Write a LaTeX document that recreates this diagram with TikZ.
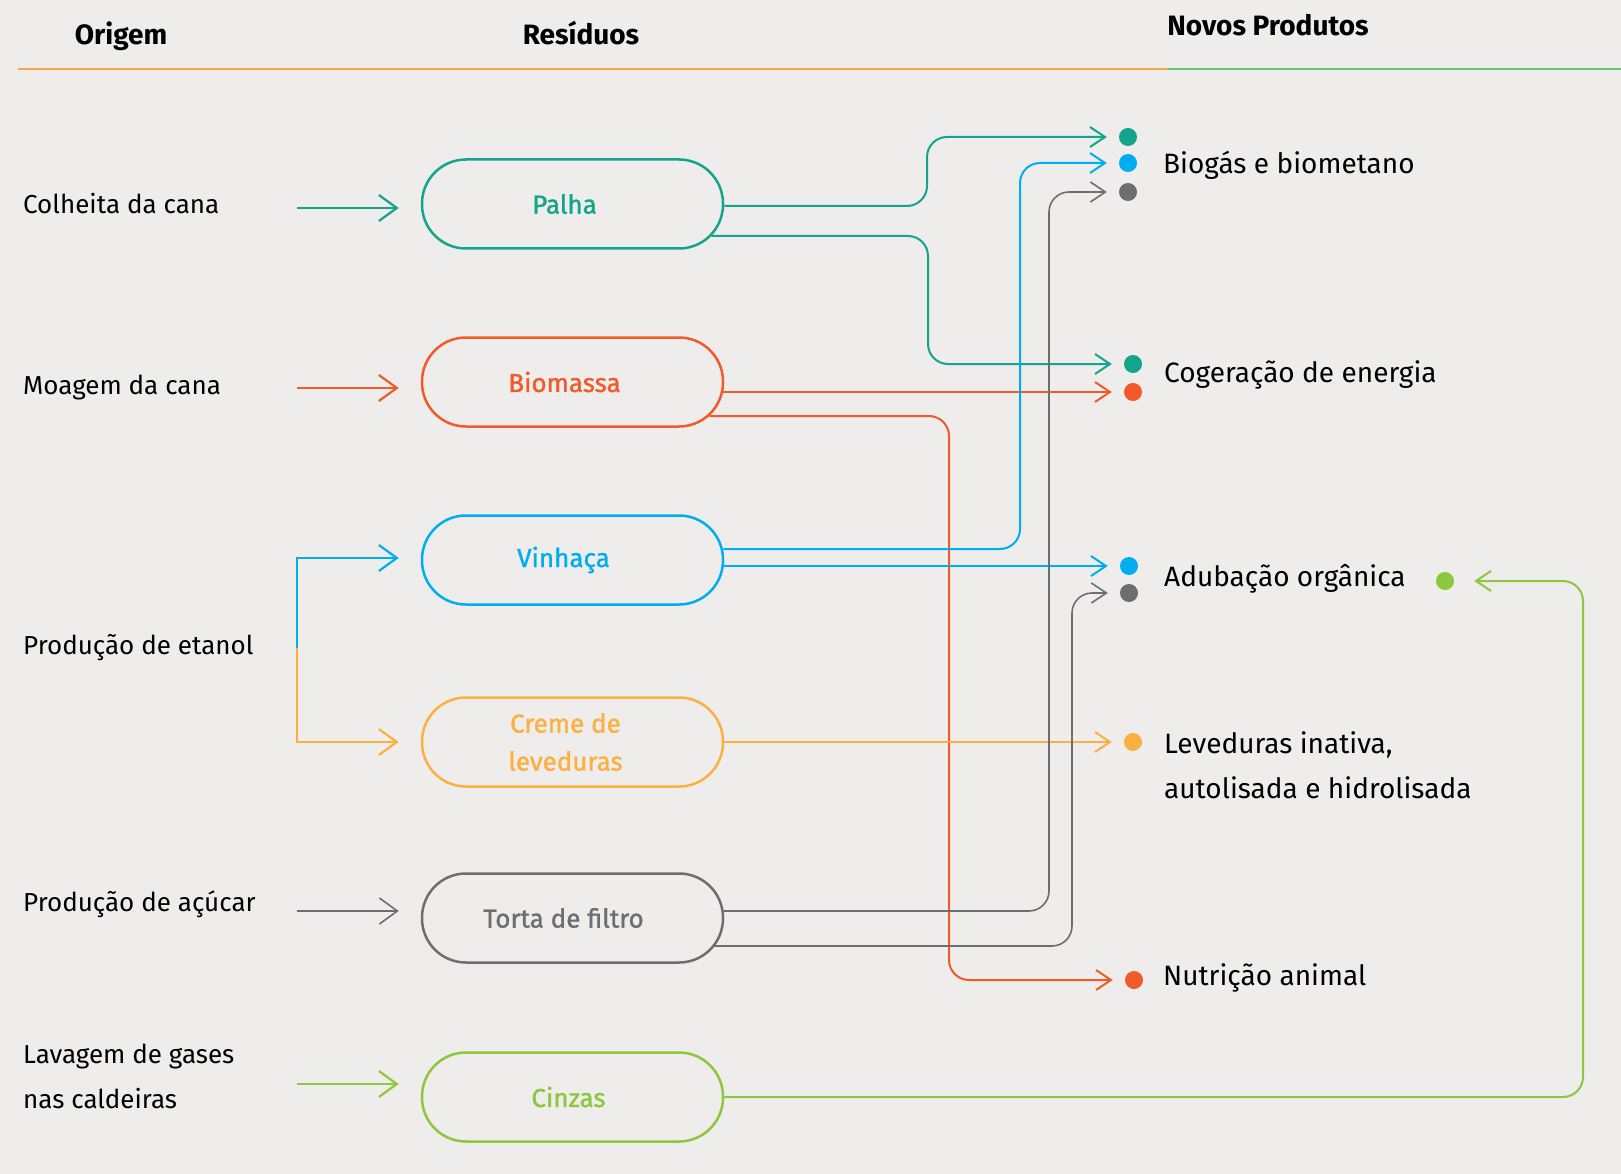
\documentclass[tikz,border=0pt]{standalone}
\usepackage{fontspec}
\setmainfont{Fira Sans}
\newfontfamily\pillfont{Fira Sans}[FakeBold=1.2]
\usetikzlibrary{arrows.meta}
\definecolor{paper}{HTML}{EEEDEB}
\definecolor{cteal}{HTML}{13A48C}
\definecolor{cred}{HTML}{F15A29}
\definecolor{cblue}{HTML}{00AEEF}
\definecolor{corange}{HTML}{FBB040}
\definecolor{cgrey}{HTML}{6D6E71}
\definecolor{cgreen}{HTML}{8DC63F}
\definecolor{hdorange}{HTML}{F4A849}
\definecolor{hdgreen}{HTML}{6CBF74}
\begin{document}
\begin{tikzpicture}[x=1pt,y=-1pt,
  pill/.style={draw, line width=2.5pt, rounded corners=44pt,
    minimum width=301pt, minimum height=89pt, inner sep=0pt},
  pilltext/.style={inner sep=0pt, align=center,
    font=\pillfont\fontsize{26}{38}\selectfont},
  lbl/.style={anchor=west, inner sep=0pt, align=left, text=black,
    font=\fontsize{26}{45}\selectfont},
  rlbl/.style={lbl, font=\fontsize{28}{45}\selectfont},
  hdr/.style={inner sep=0pt, font=\fontsize{28}{30}\selectfont\bfseries},
  dot/.style={circle, fill, inner sep=0pt, minimum size=18pt},
  conn/.style={line width=2pt, rounded corners=20pt,
    -{Straight Barb[length=15pt,width=20pt]}},
  thinconn/.style={conn, line width=1.6pt},
  inarrow/.style={line width=2.2pt, shorten >=22pt,
    -{Straight Barb[length=18pt,width=26pt]}}]

% paper
\fill[paper] (0,0) rectangle (1621,1174);
\useasboundingbox (0,0) rectangle (1621,1174);

% column headers
\node[hdr] (h1) at (121,36) {Origem};
\node[hdr] (h2) at (581,33) {Resíduos};
\node[hdr] (h3) at (1268,25) {Novos Produtos};
\coordinate (hl) at (18,69);
\coordinate (hm) at (1168,69);
\coordinate (hr) at (1621,69);
\draw[hdorange, line width=2pt] (hl) -- (hm);
\draw[hdgreen, line width=2pt] (hm) -- (hr);

% origins
\node[lbl] (o1) at (23,204) {Colheita da cana};
\node[lbl] (o2) at (23,388) {Moagem da cana};
\node[lbl] (o3) at (23,648) {Produção de etanol};
\node[lbl] (o4) at (23,904) {Produção de açúcar};
\node[lbl] (o5) at (23,1076) {Lavagem de gases\\nas caldeiras};

% residues
\node[pill, draw=cteal] (palha) at (572.5,204) {};
\node[pill, draw=cred] (biomassa) at (572.5,382) {};
\node[pill, draw=cblue] (vinhaca) at (572.5,560) {};
\node[pill, draw=corange] (creme) at (572.5,742) {};
\node[pill, draw=cgrey] (torta) at (572.5,918) {};
\node[pill, draw=cgreen] (cinzas) at (572.5,1097) {};
\node[pilltext, text=cteal] (t1) at ([xshift=-8pt]palha.center) {Palha};
\node[pilltext, text=cred] (t2) at ([xshift=-8pt]biomassa.center) {Biomassa};
\node[pilltext, text=cblue] (t3) at ([xshift=-9pt]vinhaca.center) {Vinhaça};
\node[pilltext, text=corange] (t4) at ([xshift=-7pt]creme.center) {Creme de\\leveduras};
\node[pilltext, text=cgrey] (t5) at ([xshift=-9pt]torta.center) {Torta de filtro};
\node[pilltext, text=cgreen] (t6) at ([xshift=-4pt]cinzas.center) {Cinzas};

% arrows into the residues
\coordinate (a1) at (297,208);
\coordinate (a2) at (297,388);
\coordinate (a4) at (297,911);
\coordinate (a5) at (297,1084);
\coordinate (e0) at (297,648);
\draw[cteal, inarrow] (a1) -- (a1 -| palha.west);
\draw[cred, inarrow] (a2) -- (a2 -| biomassa.west);
\draw[cblue, inarrow] (e0) |- ([yshift=2pt]vinhaca.west);
\draw[corange, inarrow] (e0) |- (creme.west);
\draw[cgrey, inarrow, line width=1.6pt] (a4) -- (a4 -| torta.west);
\draw[cgreen, inarrow] (a5) -- (a5 -| cinzas.west);

% products
\node[dot, cteal] (dbt) at (1128,137) {};
\node[dot, cblue] (dbb) at (1128,163) {};
\node[dot, cgrey] (dbg) at (1128,192) {};
\node[dot, cteal] (dct) at (1133,364) {};
\node[dot, cred] (dcr) at (1133,392) {};
\node[dot, cblue] (dab) at (1129,566) {};
\node[dot, cgrey] (dag) at (1129,593) {};
\node[dot, cgreen] (dagr) at (1445,581) {};
\node[dot, corange] (dl) at (1133,742) {};
\node[dot, cred] (dn) at (1134,980) {};

\node[rlbl] (p1) at (1163,165) {Biogás e biometano};
\node[rlbl] (p2) at (1164,375) {Cogeração de energia};
\node[rlbl] (p3) at (1164,579) {Adubação orgânica};
\node[rlbl] (p4) at (1164,765) {Leveduras inativa,\\autolisada e hidrolisada};
\node[rlbl] (p5) at (1163,978) {Nutrição animal};

% routing columns
\coordinate (k1) at (927,0);
\coordinate (k2) at (928,0);
\coordinate (k3) at (949,0);
\coordinate (k4) at (1020,0);
\coordinate (k5) at (1049,0);
\coordinate (k6) at (1072,0);
\coordinate (k7) at (1583,0);

% residues to products
\draw[conn, cteal] ([shift={(0,2)}]palha.east) -| (k1 |- dbt) -- ([xshift=-12pt]dbt.west);
\draw[conn, cteal] ([shift={(-13,32)}]palha.east) -| (k2 |- dct) -- ([xshift=-12pt]dct.west);
\draw[conn, cred] ([shift={(-1,10)}]biomassa.east) -- ([xshift=-12pt]dcr.west);
\draw[conn, cred] ([shift={(-15,34)}]biomassa.east) -| (k3 |- dn) -- ([xshift=-12pt]dn.west);
\draw[conn, cblue] ([shift={(-1,-11)}]vinhaca.east) -| (k4 |- dbb) -- ([xshift=-12pt]dbb.west);
\draw[conn, cblue] ([shift={(0,6)}]vinhaca.east) -- ([xshift=-12pt]dab.west);
\draw[conn, corange] (creme.east) -- ([xshift=-12pt]dl.west);
\draw[thinconn, cgrey] ([shift={(-0.5,-7)}]torta.east) -| (k5 |- dbg) -- ([xshift=-12pt]dbg.west);
\draw[thinconn, cgrey] ([shift={(-10,28)}]torta.east) -| (k6 |- dag) -- ([xshift=-12pt]dag.west);
\draw[conn, cgreen] (cinzas.east) -| (k7 |- dagr) -- ([xshift=20pt]dagr.east);
\end{tikzpicture}
\end{document}
